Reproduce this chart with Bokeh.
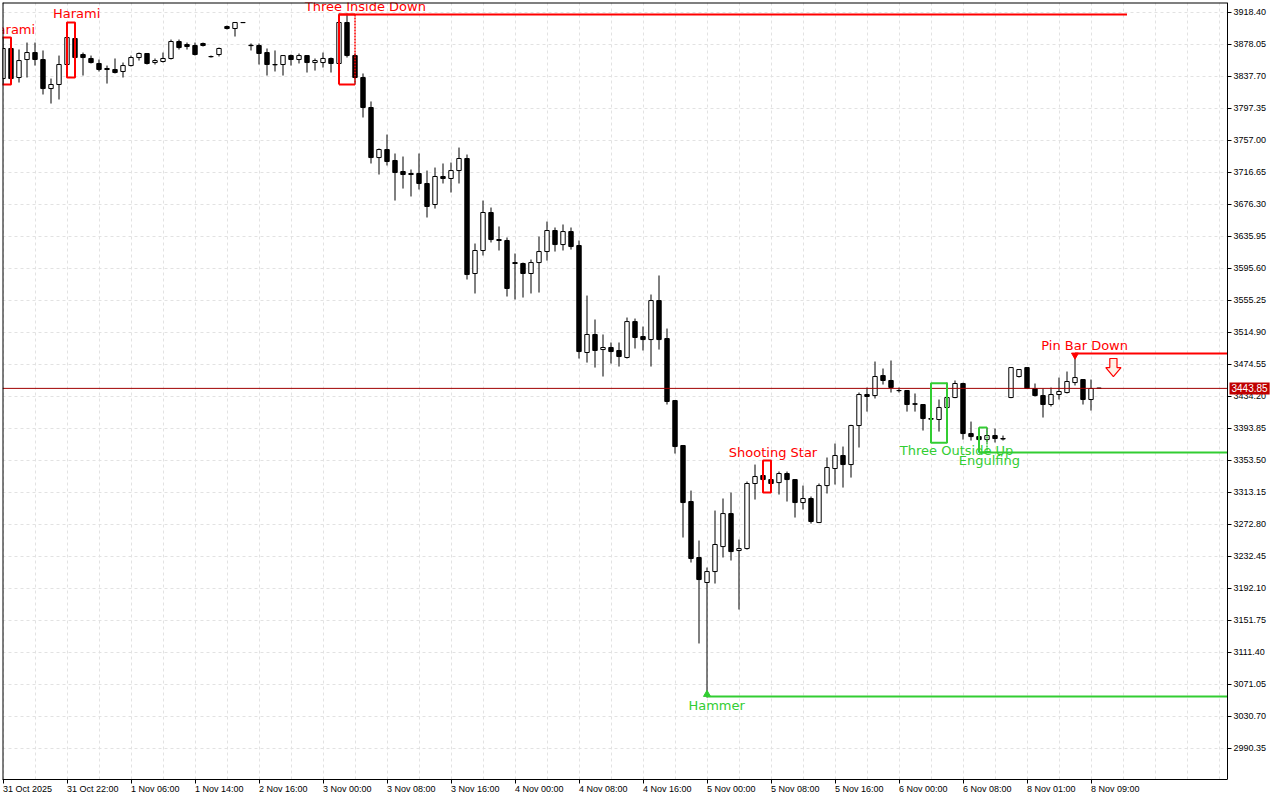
from bokeh.plotting import figure
from bokeh.models import Range1d, FixedTicker, NumeralTickFormatter, Label, ColumnDataSource
from bokeh.core.properties import value
from bokeh.embed import file_html
from bokeh.resources import INLINE

# ---------------- data (hourly candles) ----------------
opens = [3834.5, 3872.4, 3835.8, 3858.5, 3867.3, 3858.5, 3821.9, 3827.0, 3852.2, 3885.0,
         3864.8, 3859.8, 3853.5, 3847.2, 3845.9, 3843.4, 3850.9, 3861.0, 3866.1, 3854.7,
         3856.0, 3859.8, 3881.2, 3877.4, 3876.2, 3878.7, 3862.3, 3864.8, 3900.1, 3897.6,
         3905.0, 3876.5, 3876.2, 3867.3, 3852.2, 3852.2, 3863.5, 3858.5, 3863.5, 3854.7,
         3854.7, 3859.8, 3853.5, 3905.2, 3863.5, 3835.8, 3798.0, 3734.9, 3745.0, 3731.2,
         3717.3, 3714.8, 3714.8, 3702.2, 3675.7, 3711.0, 3708.5, 3718.5, 3733.7, 3588.7,
         3617.7, 3665.6, 3631.5, 3630.3, 3602.5, 3601.3, 3588.7, 3602.5, 3616.4, 3642.9,
         3625.2, 3641.6, 3624.0, 3489.1, 3511.8, 3492.8, 3495.4, 3491.6, 3482.8, 3528.1,
         3509.2, 3505.4, 3554.6, 3506.7, 3428.5, 3371.8, 3301.2, 3230.6, 3199.1, 3212.9,
         3244.4, 3286.0, 3239.4, 3241.9, 3323.9, 3334.0, 3328.9, 3325.1, 3336.5, 3328.9,
         3299.9, 3305.0, 3274.7, 3321.3, 3342.8, 3359.2, 3347.8, 3397.0, 3436.1, 3434.8,
         3460.0, 3453.8, 3441.2, 3441.2, 3424.5, 3423.5, 3405.8, 3404.6, 3419.7, 3432.3,
         3450.0, 3386.9, 3383.1, 3379.3, 3384.4, 3380.6, 3432.3, 3458.8, 3470.1, 3443.7,
         3434.8, 3423.5, 3436.1, 3438.6, 3451.2, 3455.0, 3429.8, 3444.2]
highs = [3886.2, 3877.4, 3871.1, 3879.9, 3879.9, 3869.9, 3834.5, 3863.5, 3905.2, 3892.6,
         3867.3, 3863.5, 3858.5, 3850.9, 3859.8, 3854.7, 3863.5, 3867.3, 3866.5, 3859.8,
         3867.3, 3883.7, 3883.7, 3879.9, 3879.9, 3879.9, 3863.5, 3873.6, 3901.4, 3905.6,
         3905.6, 3878.7, 3878.7, 3872.4, 3869.9, 3864.0, 3864.8, 3866.1, 3864.0, 3859.8,
         3867.3, 3861.0, 3916.5, 3916.5, 3866.1, 3840.9, 3805.6, 3746.3, 3763.9, 3740.0,
         3736.2, 3719.8, 3740.0, 3718.5, 3722.3, 3727.4, 3728.6, 3747.5, 3738.7, 3626.5,
         3680.7, 3671.9, 3648.0, 3634.1, 3613.9, 3602.5, 3606.3, 3635.3, 3654.2, 3646.7,
         3650.5, 3646.7, 3630.3, 3560.9, 3530.7, 3511.8, 3501.7, 3501.7, 3533.2, 3531.9,
         3521.8, 3562.2, 3586.2, 3519.3, 3429.0, 3372.5, 3315.0, 3252.0, 3218.0, 3289.8,
         3305.0, 3312.5, 3253.3, 3326.4, 3347.8, 3335.0, 3352.9, 3339.0, 3339.0, 3329.5,
         3321.3, 3307.5, 3323.9, 3356.7, 3374.3, 3370.5, 3398.0, 3438.6, 3444.9, 3477.7,
         3468.9, 3479.0, 3444.9, 3441.5, 3437.4, 3424.0, 3406.0, 3429.8, 3451.2, 3453.8,
         3451.0, 3402.0, 3394.5, 3394.5, 3393.2, 3384.4, 3470.5, 3467.9, 3470.5, 3450.0,
         3443.7, 3444.9, 3457.5, 3465.1, 3487.8, 3455.5, 3455.0, 3444.5]
lows = [3827.0, 3832.0, 3829.5, 3835.8, 3850.9, 3814.4, 3803.0, 3808.1, 3851.5, 3838.3,
        3838.3, 3853.5, 3843.4, 3828.2, 3840.9, 3835.8, 3849.7, 3857.2, 3852.2, 3852.2,
        3854.7, 3858.5, 3871.1, 3871.1, 3863.5, 3874.9, 3861.0, 3862.3, 3896.3, 3887.5,
        3904.7, 3869.9, 3852.2, 3838.3, 3843.4, 3838.3, 3850.9, 3853.5, 3842.1, 3844.6,
        3848.4, 3842.1, 3852.5, 3861.0, 3827.0, 3785.4, 3727.4, 3713.5, 3724.9, 3680.7,
        3695.8, 3685.8, 3694.6, 3659.3, 3670.6, 3702.2, 3690.8, 3702.2, 3581.1, 3563.5,
        3611.4, 3627.8, 3617.7, 3559.7, 3555.9, 3558.4, 3563.5, 3564.7, 3605.0, 3616.4,
        3617.7, 3618.9, 3481.5, 3476.4, 3470.1, 3458.8, 3475.2, 3471.4, 3481.5, 3494.1,
        3491.6, 3471.4, 3492.8, 3423.5, 3361.7, 3255.8, 3224.3, 3122.2, 3054.0, 3197.8,
        3230.6, 3226.8, 3165.0, 3240.5, 3303.7, 3312.5, 3318.8, 3310.0, 3301.2, 3281.0,
        3291.1, 3273.4, 3274.0, 3311.3, 3322.6, 3318.8, 3331.4, 3369.3, 3414.6, 3431.1,
        3448.7, 3438.6, 3438.6, 3414.6, 3414.6, 3390.7, 3375.0, 3389.4, 3419.0, 3431.5,
        3379.3, 3378.1, 3363.0, 3375.6, 3375.6, 3378.1, 3431.5, 3457.5, 3443.0, 3433.6,
        3407.1, 3421.0, 3429.8, 3437.4, 3447.5, 3423.5, 3415.9, 3443.5]
closes = [3872.4, 3834.5, 3857.2, 3867.3, 3858.5, 3821.9, 3827.0, 3852.2, 3886.2, 3861.0,
          3861.0, 3854.7, 3845.9, 3845.9, 3842.1, 3850.9, 3861.0, 3866.1, 3853.5, 3857.2,
          3859.8, 3881.2, 3873.6, 3874.9, 3864.8, 3876.2, 3862.0, 3872.4, 3897.6, 3905.2,
          3905.2, 3876.0, 3866.1, 3852.2, 3851.8, 3863.5, 3858.5, 3863.5, 3854.7, 3857.2,
          3859.8, 3853.5, 3905.2, 3863.5, 3835.8, 3798.0, 3734.9, 3745.0, 3729.9, 3716.0,
          3713.5, 3713.5, 3702.2, 3673.2, 3711.0, 3708.5, 3718.5, 3733.7, 3587.4, 3617.7,
          3665.6, 3631.5, 3630.3, 3569.8, 3601.3, 3588.7, 3602.5, 3616.4, 3642.9, 3625.2,
          3641.6, 3622.7, 3490.3, 3511.8, 3491.6, 3495.4, 3490.3, 3484.0, 3528.1, 3508.0,
          3505.4, 3554.6, 3505.4, 3427.3, 3370.5, 3299.9, 3229.3, 3202.8, 3212.9, 3247.0,
          3286.0, 3238.1, 3241.9, 3323.9, 3332.7, 3328.9, 3323.9, 3336.5, 3328.9, 3299.9,
          3305.0, 3276.0, 3321.3, 3344.1, 3359.2, 3347.8, 3397.0, 3436.1, 3433.6, 3458.8,
          3453.8, 3445.0, 3441.0, 3423.5, 3423.8, 3405.8, 3405.0, 3419.7, 3432.3, 3450.0,
          3386.9, 3383.1, 3379.3, 3384.4, 3380.6, 3380.0, 3470.1, 3467.6, 3443.7, 3434.8,
          3423.5, 3436.1, 3439.9, 3452.5, 3457.5, 3429.8, 3443.7, 3443.85]

time_tick_index = [0, 8, 16, 24, 32, 40, 48, 56, 64, 72, 80, 88, 96, 104, 112, 120, 128, 136]
time_tick_labels = ["31 Oct 2025", "31 Oct 22:00", "1 Nov 06:00", "1 Nov 14:00", "2 Nov 16:00",
                    "3 Nov 00:00", "3 Nov 08:00", "3 Nov 16:00", "4 Nov 00:00", "4 Nov 08:00",
                    "4 Nov 16:00", "5 Nov 00:00", "5 Nov 08:00", "5 Nov 16:00", "6 Nov 00:00",
                    "6 Nov 08:00", "8 Nov 01:00", "8 Nov 09:00"]
price_ticks = [2990.35, 3030.70, 3071.05, 3111.40, 3151.75, 3192.10, 3232.45, 3272.80,
               3313.15, 3353.50, 3393.85, 3434.20, 3474.55, 3514.90, 3555.25, 3595.60,
               3635.95, 3676.30, 3716.65, 3757.00, 3797.35, 3837.70, 3878.05, 3918.40]
current_price = 3443.85

# candlestick patterns: first/last candle, box top/bottom, label anchor
pattern_names = ["Harami", "Harami", "Three Inside Down", "Shooting Star",
                 "Three Outside Up", "Engulfing", "Hammer", "Pin Bar Down"]
pattern_first = [-1, 8, 42, 95, 116, 122, 88, 134]
pattern_last = [1, 9, 44, 96, 118, 123, 88, 134]
pattern_top = [3886.2, 3905.2, 3915.2, 3352.9, 3450.4, 3394.5, 3218.0, 3487.8]
pattern_bottom = [3827.0, 3835.8, 3827.0, 3312.5, 3375.2, 3363.0, 3054.0, 3447.5]
pattern_bull = [False, False, False, False, True, True, True, False]
pattern_box = [True, True, True, True, True, True, False, False]
pattern_open_right = [False, False, True, False, False, True, False, False]
pattern_label_x = [1.06, 9.2, 45.3, 96.25, 119.2, 123.3, 89.2, 135.2]

# support / resistance levels: price, start candle, end candle
level_price = [3915.2, 3487.8, 3363.0, 3055.3]
level_start = [42, 134, 122, 88]
level_end = [140.5, 170, 170, 170]
level_bull = [False, False, True, True]

RED = "#ff0000"
GREEN = "#32cd32"

X0 = -0.0625          # left edge of the chart
XAX = 153.0625        # where the price scale sits
X1 = X0 + 1276 / 8    # right edge of the canvas (price labels live inside it)
Y0, Y1 = 2950.7, 3930.4

# ---------------- figure ----------------
p = figure(frame_width=1276, frame_height=777,
           x_range=Range1d(X0, X1), y_range=Range1d(Y0, Y1),
           y_axis_location="right", output_backend="svg", toolbar_location=None,
           min_border_left=0, min_border_top=0, min_border_right=0, min_border_bottom=0,
           background_fill_color="white", border_fill_color="white")
p.margin = (2, 0, 0, 2)
p.outline_line_color = None

p.xgrid.ticker = FixedTicker(ticks=list(range(0, 153, 4)))
p.ygrid.ticker = FixedTicker(ticks=price_ticks)
for g in (p.xgrid, p.ygrid):
    g.grid_line_color = "#e2e2e2"
    g.grid_line_dash = "3 3"
    g.grid_line_width = 1

ax = p.xaxis[0]
ax.ticker = FixedTicker(ticks=time_tick_index)
ax.major_label_overrides = {i: s for i, s in zip(time_tick_index, time_tick_labels)}
ax.bounds = (X0, XAX)
ax.minor_tick_line_color = None
ax.major_tick_in = 0
ax.major_tick_out = 4
ax.major_label_orientation = -0.0001
ax.major_label_standoff = 5
ax.major_label_text_font = "Liberation Sans"
ax.major_label_text_font_size = "9px"
ax.major_label_text_color = "black"
ax.axis_line_color = "black"

ay = p.yaxis[0]
ay.fixed_location = XAX
ay.ticker = FixedTicker(ticks=price_ticks)
ay.formatter = NumeralTickFormatter(format="0.00")
ay.minor_tick_line_color = None
ay.major_tick_in = 0
ay.major_tick_out = 4
ay.major_label_standoff = 2
ay.major_label_text_font = "Liberation Sans"
ay.major_label_text_font_size = "9px"
ay.major_label_text_color = "black"
ay.axis_line_color = "black"

# ---------------- candles ----------------
idx = list(range(len(opens)))
src = ColumnDataSource(dict(
    x=idx, o=opens, h=highs, l=lows, c=closes,
    top=[max(o, c) for o, c in zip(opens, closes)],
    bottom=[min(o, c) for o, c in zip(opens, closes)],
    fill=["white" if c >= o else "black" for o, c in zip(opens, closes)],
))
p.segment(x0="x", y0="l", x1="x", y1="h", source=src, line_color="black", line_width=1)
p.vbar(x="x", top="top", bottom="bottom", width=0.55, source=src,
       fill_color="fill", line_color="black", line_width=1)

# current price line
p.segment(x0=[X0], y0=[current_price], x1=[X1], y1=[current_price], line_color="#a00000", line_width=1)

# ---------------- pattern boxes ----------------
for name, f, l, t, b, bull, box, open_r in zip(pattern_names, pattern_first, pattern_last, pattern_top,
                                               pattern_bottom, pattern_bull, pattern_box,
                                               pattern_open_right):
    if not box:
        continue
    col = GREEN if bull else RED
    if open_r:
        p.segment(x0=[f, f, f], y0=[t, t, b], x1=[f, l, l], y1=[b, t, b],
                  line_color=col, line_width=2)
        p.segment(x0=[l], y0=[t], x1=[l], y1=[b], line_color=col, line_width=1.5,
                  line_dash="2 1")
    else:
        p.quad(left=[f], right=[l], top=[t], bottom=[b], fill_color=None,
               line_color=col, line_width=2)

# level lines
for price, s, e, bull in zip(level_price, level_start, level_end, level_bull):
    p.segment(x0=[s], y0=[price], x1=[e], y1=[price],
              line_color=GREEN if bull else RED, line_width=2)

# pattern labels
for name, lx, t, b, bull in zip(pattern_names, pattern_label_x, pattern_top, pattern_bottom, pattern_bull):
    if bull:
        p.text(x=[lx], y=[b], text=[name], text_font=value("DejaVu Sans"), text_font_size="13px",
               text_color=GREEN, text_align="center", text_baseline="top", y_offset=0)
    else:
        p.text(x=[lx], y=[t], text=[name], text_font=value("DejaVu Sans"), text_font_size="13px",
               text_color=RED, text_align="center", text_baseline="bottom", y_offset=-1)

# signal markers
hammer_i = pattern_first[pattern_names.index("Hammer")]
pin_i = pattern_first[pattern_names.index("Pin Bar Down")]
p.scatter(x=[hammer_i], y=[lows[hammer_i] + 4.0], marker="triangle", size=7,
          fill_color=GREEN, line_color=GREEN)
p.scatter(x=[pin_i], y=[highs[pin_i] - 2.0], marker="inverted_triangle", size=7,
          fill_color=RED, line_color=RED)

# hollow sell arrow next to the pin bar
ac = pin_i + 4.8
a_top, a_mid, a_bot = highs[pin_i] - 6.3, highs[pin_i] - 17.7, highs[pin_i] - 29.0
p.patch(x=[ac - 0.45, ac + 0.45, ac + 0.45, ac + 0.95, ac, ac - 0.95, ac - 0.45],
        y=[a_top, a_top, a_mid, a_mid, a_bot, a_mid, a_mid],
        fill_color="#fff1e6", line_color=RED, line_width=1.2)

# blank the price-scale strip, then the chart border (left, top)
p.quad(left=[XAX], right=[X1 + 5], bottom=[Y0 - 50], top=[Y1 + 50],
       fill_color="white", line_color=None)
p.segment(x0=[X0, X0], y0=[Y0, Y1], x1=[X0, XAX], y1=[Y1, Y1], line_color="black", line_width=2)

# current price tag on the price scale
p.add_layout(Label(x=XAX, y=current_price, x_offset=2, text="3443.85", text_baseline="middle",
                   text_align="left", text_color="white", text_font="Liberation Sans",
                   text_font_size="10px", background_fill_color="#c00000", padding=2))

open("out.html", "w").write(file_html(p, INLINE))
